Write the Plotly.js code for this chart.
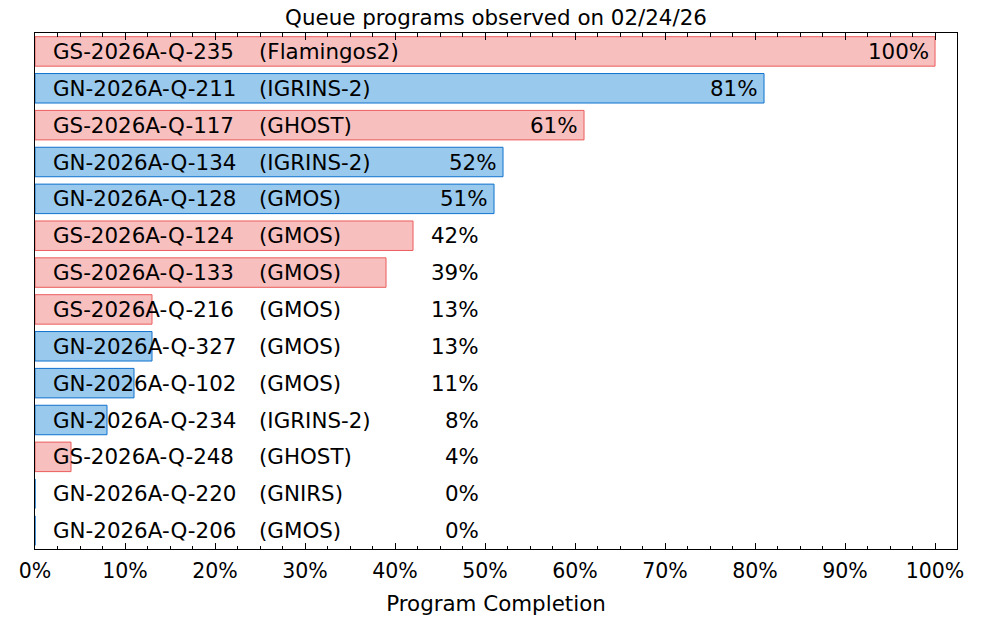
<!DOCTYPE html>
<html>
<head>
<meta charset="utf-8">
<script src="https://cdn.plot.ly/plotly-3.0.1.min.js"></script>
<style>html,body{margin:0;padding:0;background:#fff;}#chart{width:1000px;height:620px;}</style>
</head>
<body>
<div id="chart"></div>
<script>
const programs = ["GS-2026A-Q-235","GN-2026A-Q-211","GS-2026A-Q-117","GN-2026A-Q-134","GN-2026A-Q-128","GS-2026A-Q-124","GS-2026A-Q-133","GS-2026A-Q-216","GN-2026A-Q-327","GN-2026A-Q-102","GN-2026A-Q-234","GS-2026A-Q-248","GN-2026A-Q-220","GN-2026A-Q-206"];
const instruments = ["Flamingos2","IGRINS-2","GHOST","IGRINS-2","GMOS","GMOS","GMOS","GMOS","GMOS","GMOS","IGRINS-2","GHOST","GNIRS","GMOS"];
const completion = [100,81,61,52,51,42,39,13,13,11,8,4,0,0];
const tickVals = [0,10,20,30,40,50,60,70,80,90,100];

const FONT = "DejaVu Sans";
const TXT = 21.4;
const siteFill = {GS: "rgb(248,191,191)", GN: "rgb(153,201,237)"};
const siteLine = {GS: "rgb(236,92,92)", GN: "rgb(16,114,206)"};
const sites = programs.map(p => p.slice(0,2));

const trace = {
  type: "bar",
  orientation: "h",
  x: completion,
  y: programs,
  width: 0.8,
  marker: {
    color: sites.map(s => siteFill[s]),
    line: {color: sites.map(s => siteLine[s]), width: 1}
  },
  hoverinfo: "skip"
};

const annotations = [];
programs.forEach((p, i) => {
  annotations.push({x: 2, y: p, xref: "x", yref: "y", text: p, showarrow: false, xanchor: "left", xshift: -2, font: {family: FONT, size: TXT, color: "#000"}});
  annotations.push({x: 25, y: p, xref: "x", yref: "y", text: "(" + instruments[i] + ")", showarrow: false, xanchor: "left", xshift: -3, font: {family: FONT, size: TXT, color: "#000"}});
  annotations.push({x: Math.max(completion[i], 50), y: p, xref: "x", yref: "y", text: completion[i] + "%", showarrow: false, xanchor: "right", xshift: -4, font: {family: FONT, size: TXT, color: "#000"}});
});

const layout = {
  width: 1000, height: 620,
  margin: {l: 35, r: 43, t: 33, b: 71, pad: 0},
  paper_bgcolor: "#fff", plot_bgcolor: "#fff",
  font: {family: FONT, size: TXT, color: "#000"},
  showlegend: false,
  title: {text: "Queue programs observed on 02/24/26", x: 0.496, xanchor: "center", y: 0.972, yanchor: "middle", font: {family: FONT, size: TXT, color: "#000"}},
  xaxis: {
    range: [0, 102.44], fixedrange: true,
    tickvals: tickVals, ticktext: tickVals.map(v => v + "%"),
    ticks: "inside", ticklen: 6.5, tickwidth: 1, tickcolor: "#000",
    ticklabelstandoff: 3,
    minor: {dtick: 2.5, tick0: 0, ticks: "inside", ticklen: 3.5, tickwidth: 1, tickcolor: "#000"},
    showline: true, linecolor: "#000", linewidth: 1.2, mirror: "ticks",
    showgrid: false, zeroline: false,
    tickfont: {family: FONT, size: 20.5, color: "#000"},
    title: {text: "Program Completion", font: {family: FONT, size: TXT, color: "#000"}, standoff: 14}
  },
  yaxis: {
    type: "category", categoryarray: programs, range: [13.5, -0.5], fixedrange: true,
    showticklabels: false, ticks: "",
    showline: true, linecolor: "#000", linewidth: 1.2, mirror: true,
    showgrid: false, zeroline: false
  },
  annotations: annotations
};

Plotly.newPlot("chart", [trace], layout, {displayModeBar: false, staticPlot: true});
</script>
</body>
</html>
